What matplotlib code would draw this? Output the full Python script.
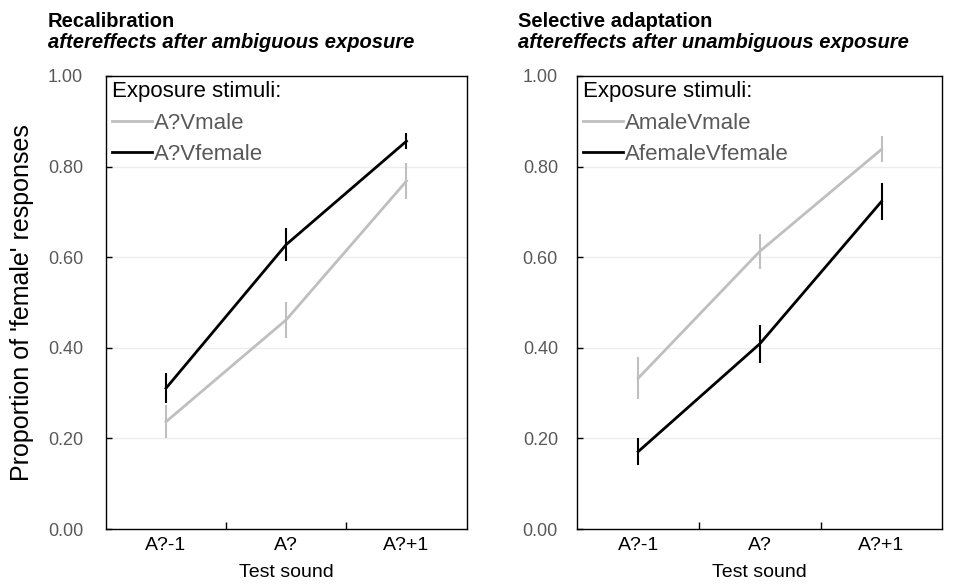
import matplotlib
matplotlib.use("Agg")
import matplotlib.pyplot as plt
from matplotlib.lines import Line2D

plt.rcParams["font.family"] = ["Liberation Sans", "DejaVu Sans"]

# -- Data --
test_sounds = ["A?-1", "A?", "A?+1"]

recal_labels = ["A?Vmale", "A?Vfemale"]
recal_male = [0.237, 0.462, 0.768]
recal_male_err = [0.037, 0.040, 0.040]
recal_female = [0.311, 0.628, 0.856]
recal_female_err = [0.033, 0.037, 0.018]

adapt_labels = ["AmaleVmale", "AfemaleVfemale"]
adapt_male = [0.333, 0.613, 0.838]
adapt_male_err = [0.046, 0.039, 0.029]
adapt_female = [0.171, 0.409, 0.723]
adapt_female_err = [0.029, 0.042, 0.040]

yticks = [0.0, 0.2, 0.4, 0.6, 0.8, 1.0]

GRAY = "#bfbfbf"
BLACK = "#000000"
TICKGRAY = "#595959"

fig = plt.figure(figsize=(9.72, 5.84), dpi=100)
ax1 = fig.add_axes([0.109, 0.094, 0.371, 0.776])
ax2 = fig.add_axes([0.594, 0.094, 0.3755, 0.776])


def draw_panel(ax, labels, male, male_err, female, female_err, ypad):
    x = list(range(len(test_sounds)))
    ax.errorbar(x, male, yerr=male_err, color=GRAY, lw=2, elinewidth=1.5,
                capsize=0, zorder=2)
    ax.errorbar(x, female, yerr=female_err, color=BLACK, lw=2, elinewidth=1.5,
                capsize=0, zorder=3)
    ax.set_xlim(-0.5, len(test_sounds) - 0.5)
    ax.set_ylim(0, 1)
    ax.set_yticks(yticks)
    ax.set_yticklabels([f"{v:.2f}" for v in yticks])
    for v in yticks[1:-1]:
        ax.axhline(v, color="#ececec", lw=1, zorder=0)
    ax.set_xticks(x)
    ax.set_xticklabels(test_sounds)
    ax.set_xticks([i + 0.5 for i in x[:-1]], minor=True)
    ax.tick_params(axis="x", which="major", length=0, pad=6, labelsize=14)
    ax.tick_params(axis="x", which="minor", direction="in", length=5, width=1)
    ax.tick_params(axis="y", direction="in", length=4, width=1, pad=ypad,
                   labelsize=13, labelcolor=TICKGRAY)
    for s in ax.spines.values():
        s.set_linewidth(1)
        s.set_color("black")
    ax.set_xlabel("Test sound", fontsize=14)
    ax.xaxis.set_label_coords(0.5, -(577 - 529) / 453, transform=ax.transAxes)
    ax.xaxis.label.set_va("baseline")
    handles = [Line2D([], [], color=GRAY, lw=2), Line2D([], [], color=BLACK, lw=2)]
    ax.legend(handles, labels, title="Exposure stimuli:", loc="upper left",
              frameon=False, fontsize=16, title_fontsize=16, alignment="left",
              handlelength=1.8, handletextpad=0.1, labelspacing=0.46,
              borderaxespad=0.0, borderpad=0.25, labelcolor=TICKGRAY)


draw_panel(ax1, recal_labels, recal_male, recal_male_err,
           recal_female, recal_female_err, 16.5)
draw_panel(ax2, adapt_labels, adapt_male, adapt_male_err,
           adapt_female, adapt_female_err, 14)

ax1.set_ylabel("Proportion of 'female' responses", fontsize=18)
ax1.yaxis.set_label_coords(-(106 - 34) / 361, 0.5)

fig.text(48 / 972, 1 - 27 / 584, "Recalibration", fontsize=14.5,
         fontweight="bold", va="baseline")
fig.text(48 / 972, 1 - 48 / 584, "aftereffects after ambiguous exposure",
         fontsize=14.5, fontweight="bold", style="italic", va="baseline")
fig.text(518 / 972, 1 - 27 / 584, "Selective adaptation", fontsize=14.5,
         fontweight="bold", va="baseline")
fig.text(518 / 972, 1 - 48 / 584, "aftereffects after unambiguous exposure",
         fontsize=14.5, fontweight="bold", style="italic", va="baseline")

plt.savefig("out.png", dpi=100)
